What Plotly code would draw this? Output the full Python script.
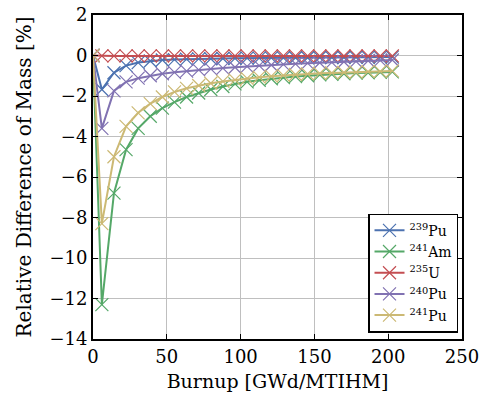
import plotly.graph_objects as go

burnup = [0, 6, 14.2, 22.4, 30.6, 38.8, 47, 55.2, 63.4, 71.6, 79.8, 88, 96.2,
          104.4, 112.6, 120.8, 129, 137.2, 145.4, 153.6, 161.8, 170, 178.2,
          186.4, 194.6, 202.8]

pu239 = [0, -1.68, -0.85, -0.5, -0.35, -0.27, -0.22, -0.2, -0.18, -0.17, -0.16,
         -0.15, -0.14, -0.13, -0.13, -0.12, -0.12, -0.11, -0.11, -0.1, -0.1,
         -0.1, -0.09, -0.09, -0.09, -0.08]
am241 = [0, -12.3, -6.8, -4.65, -3.6, -3.0, -2.6, -2.3, -2.05, -1.85, -1.68,
         -1.53, -1.4, -1.3, -1.22, -1.15, -1.09, -1.04, -1.0, -0.96, -0.93,
         -0.9, -0.87, -0.85, -0.83, -0.81]
u235 = [0, -0.02, -0.02, -0.02, -0.02, -0.02, -0.02, -0.02, -0.02, -0.02,
        -0.02, -0.02, -0.02, -0.02, -0.02, -0.02, -0.02, -0.02, -0.02, -0.02,
        -0.02, -0.02, -0.02, -0.02, -0.02, -0.02]
pu240 = [0, -3.6, -1.75, -1.3, -1.12, -1.0, -0.9, -0.83, -0.77, -0.71, -0.66,
         -0.62, -0.58, -0.54, -0.5, -0.47, -0.44, -0.41, -0.38, -0.36, -0.34,
         -0.31, -0.29, -0.26, -0.24, -0.22]
pu241 = [0, -8.3, -5.0, -3.5, -2.83, -2.38, -2.05, -1.8, -1.62, -1.48, -1.37,
         -1.28, -1.2, -1.13, -1.07, -1.02, -0.98, -0.94, -0.91, -0.88, -0.86,
         -0.84, -0.82, -0.8, -0.78, -0.76]

series = [
    ("<sup>239</sup>Pu", pu239, "#4C72B0"),
    ("<sup>241</sup>Am", am241, "#55A868"),
    ("<sup>235</sup>U", u235, "#C44E52"),
    ("<sup>240</sup>Pu", pu240, "#8172B2"),
    ("<sup>241</sup>Pu", pu241, "#CCB974"),
]

font = "DejaVu Serif"
fig = go.Figure()
for name, vals, col in series:
    fig.add_trace(go.Scatter(
        x=burnup, y=vals, name=name, mode="lines+markers",
        line=dict(color=col, width=2),
        marker=dict(symbol="x-thin-open", size=13, line=dict(color=col, width=1.2)),
    ))

axis_common = dict(
    showgrid=True, gridcolor="#bfbfbf", gridwidth=1,
    showline=True, linecolor="black", linewidth=2, mirror="ticks",
    ticks="inside", ticklen=5, tickcolor="black", tickwidth=1.2,
    zeroline=False, ticklabeloverflow="allow",
    tickfont=dict(family=font, size=18, color="black"),
)

fig.update_layout(
    width=485, height=400,
    margin=dict(l=93, r=23, t=15, b=61),
    plot_bgcolor="white", paper_bgcolor="white",
    font=dict(family=font, color="black"),
    xaxis=dict(range=[0, 250], dtick=50, automargin="bottom",
               title=dict(text="Burnup [GWd/MTIHM]", font=dict(family=font, size=19), standoff=9),
               **axis_common),
    yaxis=dict(range=[-14, 2], dtick=2, automargin="left",
               title=dict(text="Relative Difference of Mass [%]", font=dict(family=font, size=20), standoff=12),
               **axis_common),
    legend=dict(x=0.99, y=0.02, xanchor="right", yanchor="bottom",
                bgcolor="white", bordercolor="black", borderwidth=1.2,
                font=dict(family=font, size=14), tracegroupgap=0,
                itemwidth=30),
)

fig.write_html("out.html", config={"displayModeBar": False},
               post_script="document.body.style.margin='0';")
